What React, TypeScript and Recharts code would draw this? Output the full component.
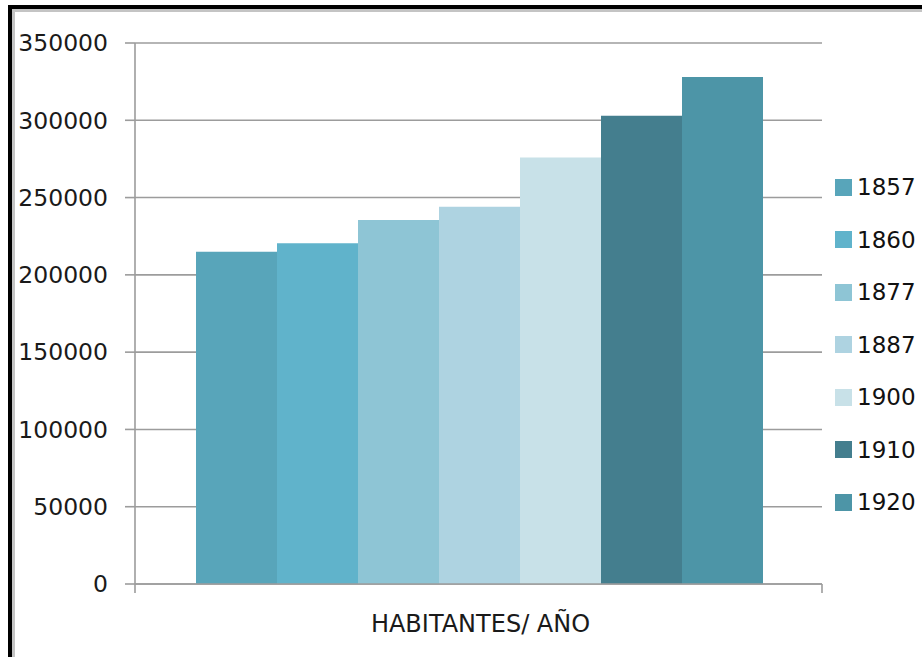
import { BarChart, Bar, XAxis, YAxis, CartesianGrid, Legend } from "recharts";

// Habitantes por año de censo (una sola categoría, una serie por año)
const category = ["HABITANTES/ AÑO"];
const years = ["1857", "1860", "1877", "1887", "1900", "1910", "1920"];
const habitantes = [215000, 220500, 235500, 244000, 276000, 303000, 328000];
const colors = ["#58a5ba", "#60b3cb", "#8ec5d5", "#aed3e1", "#c8e1e8", "#447e8e", "#4d95a7"];
const yTicks = [0, 50000, 100000, 150000, 200000, 250000, 300000, 350000];

const data = category.map((name) => {
    const row: Record<string, string | number> = { name };
    years.forEach((y, i) => {
        row[y] = habitantes[i];
    });
    return row;
});

const FONT = "'DejaVu Sans', Verdana, sans-serif";
const GRID = "#9c9c9c";

const XTick = (props: any) => {
    const { x, y, payload } = props;
    const half = payload.offset || 0;
    return (
        <g>
            <line x1={x - half} x2={x - half} y1={y} y2={y + 9} stroke={GRID} strokeWidth={1.6} />
            <line x1={x + half} x2={x + half} y1={y} y2={y + 9} stroke={GRID} strokeWidth={1.6} />
            <text x={x + 2} y={y + 48} textAnchor="middle" fontSize={24} fill="#1a1a1a" fontFamily={FONT}>
                {payload.value}
            </text>
        </g>
    );
};

const LegendList = (props: any) => {
    const { payload } = props;
    return (
        <div style={{ fontFamily: FONT, fontSize: 23, color: "#111" }}>
            {(payload || []).map((entry: any) => (
                <div key={entry.value} style={{ display: "flex", alignItems: "center", height: 52.5 }}>
                    <span style={{ width: 17, height: 17, background: entry.color, marginRight: 5 }} />
                    <span>{entry.value}</span>
                </div>
            ))}
        </div>
    );
};

export default function App() {
    return (
        <div style={{ position: "absolute", left: 0, top: 0, width: 922, height: 657, background: "#fff", overflow: "hidden" }}>
            <div
                style={{
                    position: "absolute",
                    left: 8,
                    top: 5,
                    right: 0,
                    bottom: 0,
                    borderLeft: "4px solid #000",
                    borderTop: "4px solid #000",
                }}
            >
                <div
                    style={{
                        position: "absolute",
                        left: 0,
                        top: 0,
                        right: 0,
                        bottom: 0,
                        borderLeft: "3px solid #c4c4c4",
                        borderTop: "3px solid #c4c4c4",
                    }}
                />
            </div>
            <div style={{ position: "absolute", left: 0, top: 0 }}>
                <BarChart
                    width={922}
                    height={657}
                    data={data}
                    margin={{ top: 43, right: 100, bottom: 0, left: 0 }}
                    barCategoryGap={61}
                    barGap={0}
                >
                    <CartesianGrid vertical={false} stroke={GRID} strokeWidth={1.6} />
                    <XAxis
                        dataKey="name"
                        height={73}
                        stroke={GRID}
                        strokeWidth={1.6}
                        tickLine={false}
                        tickSize={0}
                        tickMargin={0}
                        tick={<XTick />}
                    />
                    <YAxis
                        width={135}
                        domain={[0, 350000]}
                        ticks={yTicks}
                        interval={0}
                        stroke={GRID}
                        strokeWidth={1.6}
                        tickSize={10}
                        tickMargin={17}
                        tick={{ fontSize: 23.5, fill: "#1a1a1a", fontFamily: FONT }}
                    />
                    <Legend
                        layout="vertical"
                        align="center"
                        verticalAlign="middle"
                        content={<LegendList />}
                        wrapperStyle={{ left: 835, top: 161, width: 90 }}
                    />
                    {years.map((y, i) => (
                        <Bar key={y} dataKey={y} name={y} fill={colors[i]} isAnimationActive={false} />
                    ))}
                </BarChart>
            </div>
        </div>
    );
}
